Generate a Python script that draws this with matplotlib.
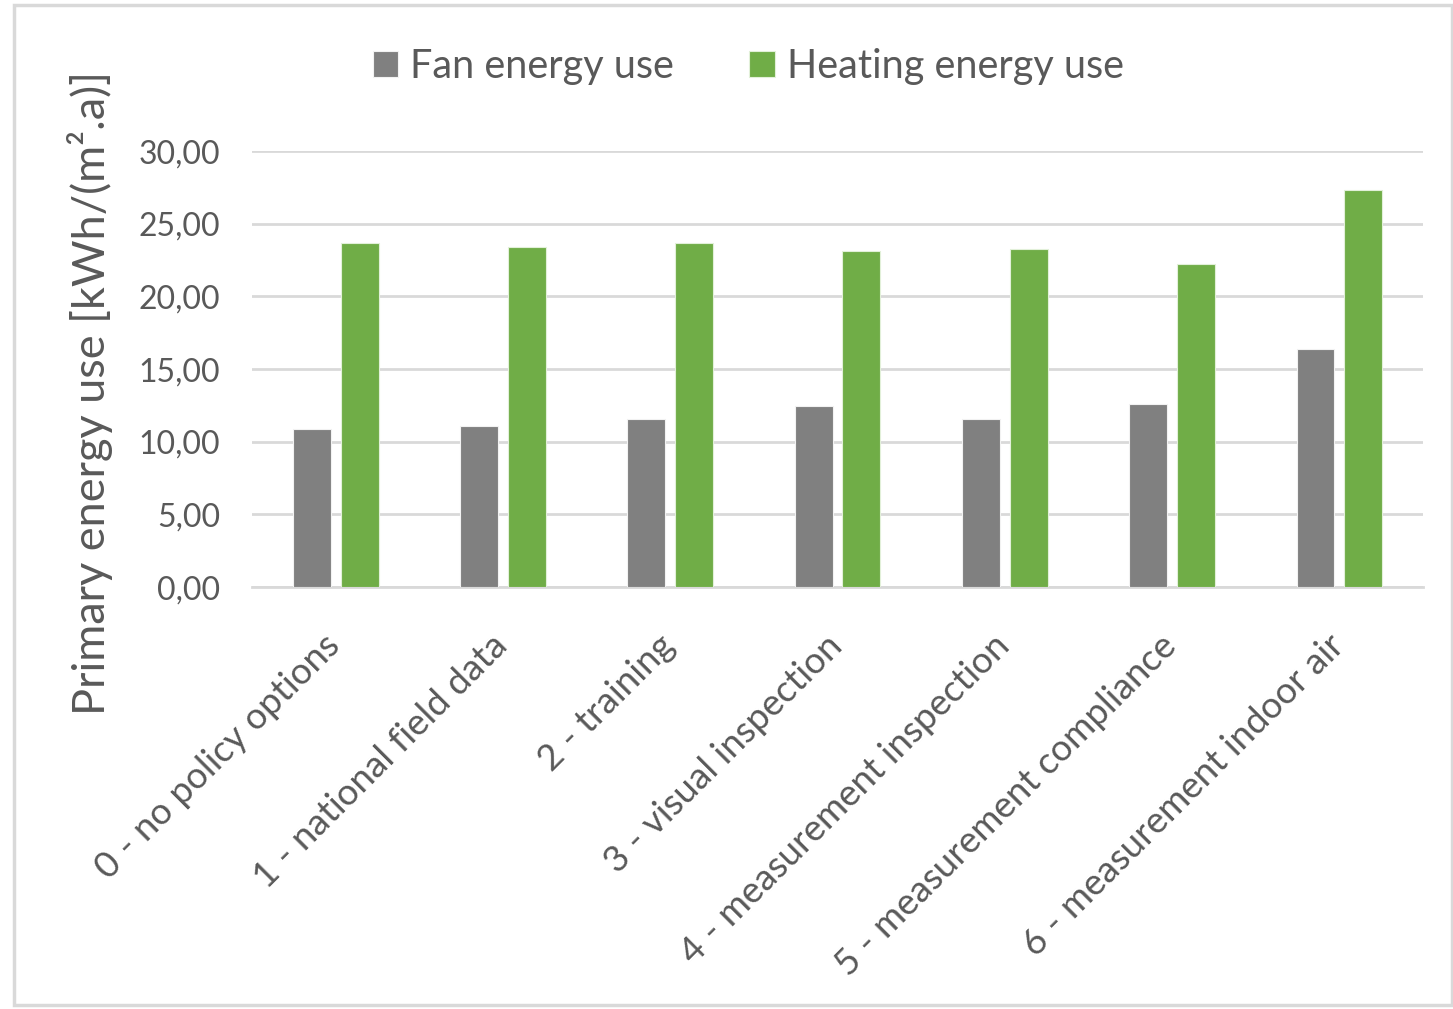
import numpy as np
import matplotlib.pyplot as plt
from matplotlib.patches import Rectangle
from matplotlib.ticker import FuncFormatter
from matplotlib.transforms import ScaledTranslation

categories = [
    "0 - no policy options",
    "1 - national field data",
    "2 - training",
    "3 - visual inspection",
    "4 - measurement inspection",
    "5 - measurement compliance",
    "6 - measurement indoor air",
]
fan_energy = [10.85, 11.10, 11.54, 12.46, 11.54, 12.59, 16.36]
heating_energy = [23.70, 23.42, 23.70, 23.15, 23.28, 22.21, 27.30]

plt.rcParams["font.family"] = ["Lato", "DejaVu Sans"]
text_grey = "#595959"
grid_grey = "#d9d9d9"

fig = plt.figure(figsize=(14.53, 10.09), dpi=100)
ax = fig.add_axes([0.1734, 0.4182, 0.806, 0.4321])

# outer chart frame
fig.patches.append(Rectangle((0.0095, 0.004), 0.99, 0.991, transform=fig.transFigure,
                             fill=False, edgecolor=grid_grey, linewidth=2.5))

x = np.arange(len(categories))
width = 0.227
offset = 0.143
ax.bar(x - offset, fan_energy, width, color="#808080", edgecolor="#f2f2f2",
       linewidth=0.8, label="Fan energy use", zorder=3)
ax.bar(x + offset, heating_energy, width, color="#70ad47", edgecolor="#e2f0d9",
       linewidth=0.8, label="Heating energy use", zorder=3)

ax.set_xlim(-0.5, len(categories) - 0.5)
ax.set_ylim(0, 30)
ax.set_yticks(np.arange(0, 31, 5))
ax.yaxis.set_major_formatter(FuncFormatter(lambda v, _: f"{v:.2f}".replace(".", ",")))
ax.grid(axis="y", color=grid_grey, linewidth=2, zorder=0)
ax.set_axisbelow(True)

for side in ["top", "right", "left"]:
    ax.spines[side].set_visible(False)
ax.spines["bottom"].set_color(grid_grey)
ax.spines["bottom"].set_linewidth(2)

ax.set_xticks(x)
ax.set_xticklabels(categories, rotation=45, ha="right", rotation_mode="anchor",
                   fontsize=26.5, color=text_grey)
ax.tick_params(axis="x", length=0, pad=30)
ax.tick_params(axis="y", length=0, pad=23, labelsize=23, labelcolor=text_grey)

# nudge the slanted category labels a little to the left
shift = ScaledTranslation(-9 / 72, 0, fig.dpi_scale_trans)
for lbl in ax.get_xticklabels():
    lbl.set_transform(lbl.get_transform() + shift)

fig.text(0.062, 0.611, "Primary energy use [kWh/(m².a)]", rotation=90,
         ha="center", va="center", fontsize=32.5, color=text_grey)

fig.legend(loc="center", bbox_to_anchor=(0.515, 0.934), ncol=2, frameon=False,
           fontsize=28.5, labelcolor=text_grey, handlelength=0.65, handleheight=0.65,
           handletextpad=0.3, columnspacing=1.9)

fig.savefig("out.png", dpi=100)
